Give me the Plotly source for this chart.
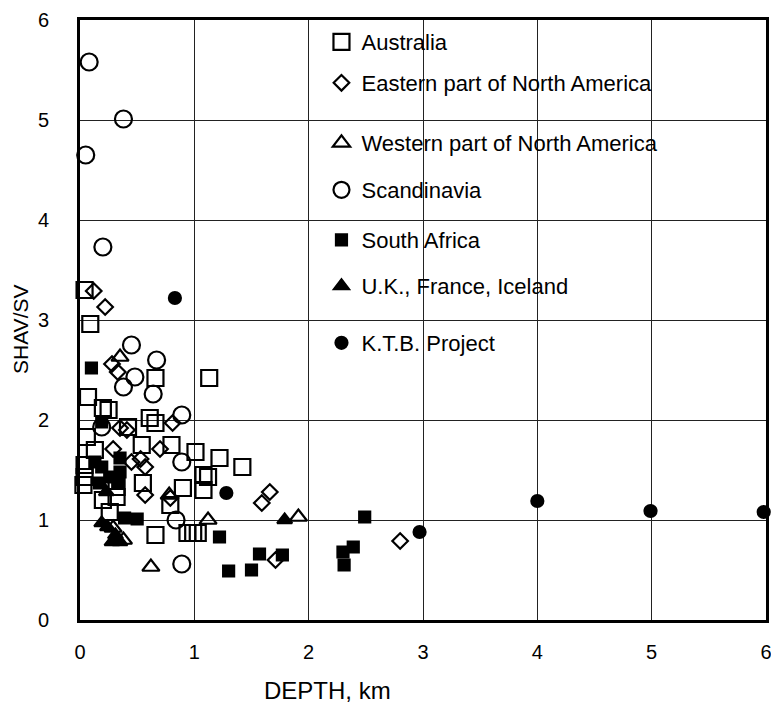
import plotly.graph_objects as go

# Ratio of horizontal to vertical stress (SHAV/SV) versus depth, by region
australia_depth = [0.04, 0.09, 1.13, 0.66, 0.07, 0.20, 0.25, 0.61, 0.66, 1.01, 1.22, 1.42,
                   1.08, 1.12, 0.06, 0.13, 0.54, 0.80, 0.04, 0.04, 0.03, 0.20, 0.32, 0.55,
                   0.32, 0.90, 1.08, 0.79, 0.66, 0.94, 0.99, 1.03, 0.26, 0.42]
australia_ratio = [3.30, 2.96, 2.42, 2.42, 2.23, 2.12, 2.10, 2.02, 1.97, 1.68, 1.62, 1.53,
                   1.45, 1.43, 1.83, 1.70, 1.75, 1.75, 1.55, 1.43, 1.35, 1.20, 1.23, 1.37,
                   1.33, 1.32, 1.30, 1.15, 0.85, 0.87, 0.87, 0.87, 1.08, 1.93]

east_na_depth = [0.12, 0.22, 0.28, 0.33, 0.35, 0.41, 0.29, 0.53, 0.57, 0.45, 0.70, 0.81,
                 0.57, 0.79, 1.66, 1.59, 1.71, 2.80]
east_na_ratio = [3.29, 3.13, 2.56, 2.48, 1.92, 1.90, 1.71, 1.61, 1.53, 1.58, 1.71, 1.97,
                 1.25, 1.22, 1.28, 1.17, 0.60, 0.79]

west_na_depth = [0.35, 0.78, 1.12, 1.91, 0.62, 0.38, 0.29]
west_na_ratio = [2.63, 1.25, 1.00, 1.03, 0.53, 0.80, 0.92]

scandinavia_depth = [0.08, 0.38, 0.05, 0.20, 0.45, 0.67, 0.48, 0.38, 0.64, 0.89, 0.19,
                     0.89, 0.84, 0.89]
scandinavia_ratio = [5.58, 5.01, 4.65, 3.73, 2.75, 2.60, 2.43, 2.33, 2.26, 2.05, 1.93,
                     1.58, 1.00, 0.56]

south_africa_depth = [0.10, 0.19, 0.13, 0.19, 0.35, 0.26, 0.33, 0.17, 0.39, 0.50, 1.22,
                      1.30, 1.50, 1.57, 1.77, 2.49, 2.39, 2.30, 2.31, 0.35]
south_africa_ratio = [2.52, 1.98, 1.58, 1.53, 1.48, 1.43, 1.38, 1.37, 1.02, 1.01, 0.83,
                      0.49, 0.50, 0.66, 0.65, 1.03, 0.73, 0.68, 0.55, 1.62]

uk_depth = [0.19, 0.24, 0.28, 0.35, 0.31, 0.23, 1.79]
uk_ratio = [0.97, 0.93, 0.78, 0.78, 0.85, 1.28, 1.00]

ktb_depth = [0.83, 1.28, 2.97, 4.00, 4.99, 5.98]
ktb_ratio = [3.22, 1.27, 0.88, 1.19, 1.09, 1.08]

x_ticks = [0, 1, 2, 3, 4, 5, 6]
y_ticks = [0, 1, 2, 3, 4, 5, 6]

series = [
    ("Australia", australia_depth, australia_ratio, "square-open", 16),
    ("Eastern part of North America", east_na_depth, east_na_ratio, "diamond-open", 12),
    ("Western part of North America", west_na_depth, west_na_ratio, "triangle-up-open", 15),
    ("Scandinavia", scandinavia_depth, scandinavia_ratio, "circle-open", 17),
    ("South Africa", south_africa_depth, south_africa_ratio, "square", 11),
    ("U.K., France, Iceland", uk_depth, uk_ratio, "triangle-up", 13),
    ("K.T.B. Project", ktb_depth, ktb_ratio, "circle", 12),
]

# vertical pixel centre of each legend row (plot spans 20..620 px)
legend_rows = [42, 83, 143, 190, 240, 286, 343]

PLOT_TOP, PLOT_BOTTOM = 20, 620
FONT = "Liberation Sans"

fig = go.Figure()
layout_legends = {}
for i, (name, xs, ys, sym, size) in enumerate(series):
    key = "legend" if i == 0 else f"legend{i + 1}"
    fig.add_trace(go.Scatter(
        x=xs, y=ys, mode="markers", name=name,
        marker=dict(symbol=sym, size=size, color="black",
                    line=dict(color="black", width=2.2)),
        cliponaxis=False,
        legend=key,
    ))
    ypaper = (PLOT_BOTTOM - legend_rows[i]) / (PLOT_BOTTOM - PLOT_TOP)
    layout_legends[key] = dict(
        x=0.352, xanchor="left", y=ypaper, yanchor="middle",
        bgcolor="rgba(0,0,0,0)", borderwidth=0,
        font=dict(family=FONT, size=22, color="black"),
        itemsizing="trace",
    )

fig.update_layout(
    width=771, height=706,
    margin=dict(l=80, r=5, t=20, b=86, autoexpand=False),
    paper_bgcolor="white", plot_bgcolor="white",
    showlegend=True,
    **layout_legends,
)

fig.update_xaxes(
    range=[0, 6], tickvals=x_ticks, ticktext=[str(v) for v in x_ticks],
    showgrid=True, gridcolor="#222222", gridwidth=1, zeroline=False,
    showline=True, linecolor="black", linewidth=3, mirror=True,
    ticks="", ticklabelstandoff=12, automargin=False, ticklabeloverflow="allow",
    tickfont=dict(family=FONT, size=20, color="black"),
)
fig.update_yaxes(
    range=[0, 6], tickvals=y_ticks, ticktext=[str(v) for v in y_ticks],
    showgrid=True, gridcolor="#222222", gridwidth=1, zeroline=False,
    showline=True, linecolor="black", linewidth=3, mirror=True,
    ticks="", ticklabelstandoff=24, automargin=False, ticklabeloverflow="allow",
    tickfont=dict(family=FONT, size=20, color="black"),
)

fig.add_annotation(
    text="DEPTH, km", xref="paper", yref="paper",
    x=(327 - 80) / 686, y=-(690 - 620) / 600, xanchor="center", yanchor="middle",
    showarrow=False, font=dict(family=FONT, size=24, color="black"),
)
fig.add_annotation(
    text="SHAV/SV", xref="paper", yref="paper",
    x=-(80 - 21) / 686, y=(620 - 330) / 600, xanchor="center", yanchor="middle",
    textangle=-90, showarrow=False, font=dict(family=FONT, size=21, color="black"),
)

fig.write_html("out.html")
